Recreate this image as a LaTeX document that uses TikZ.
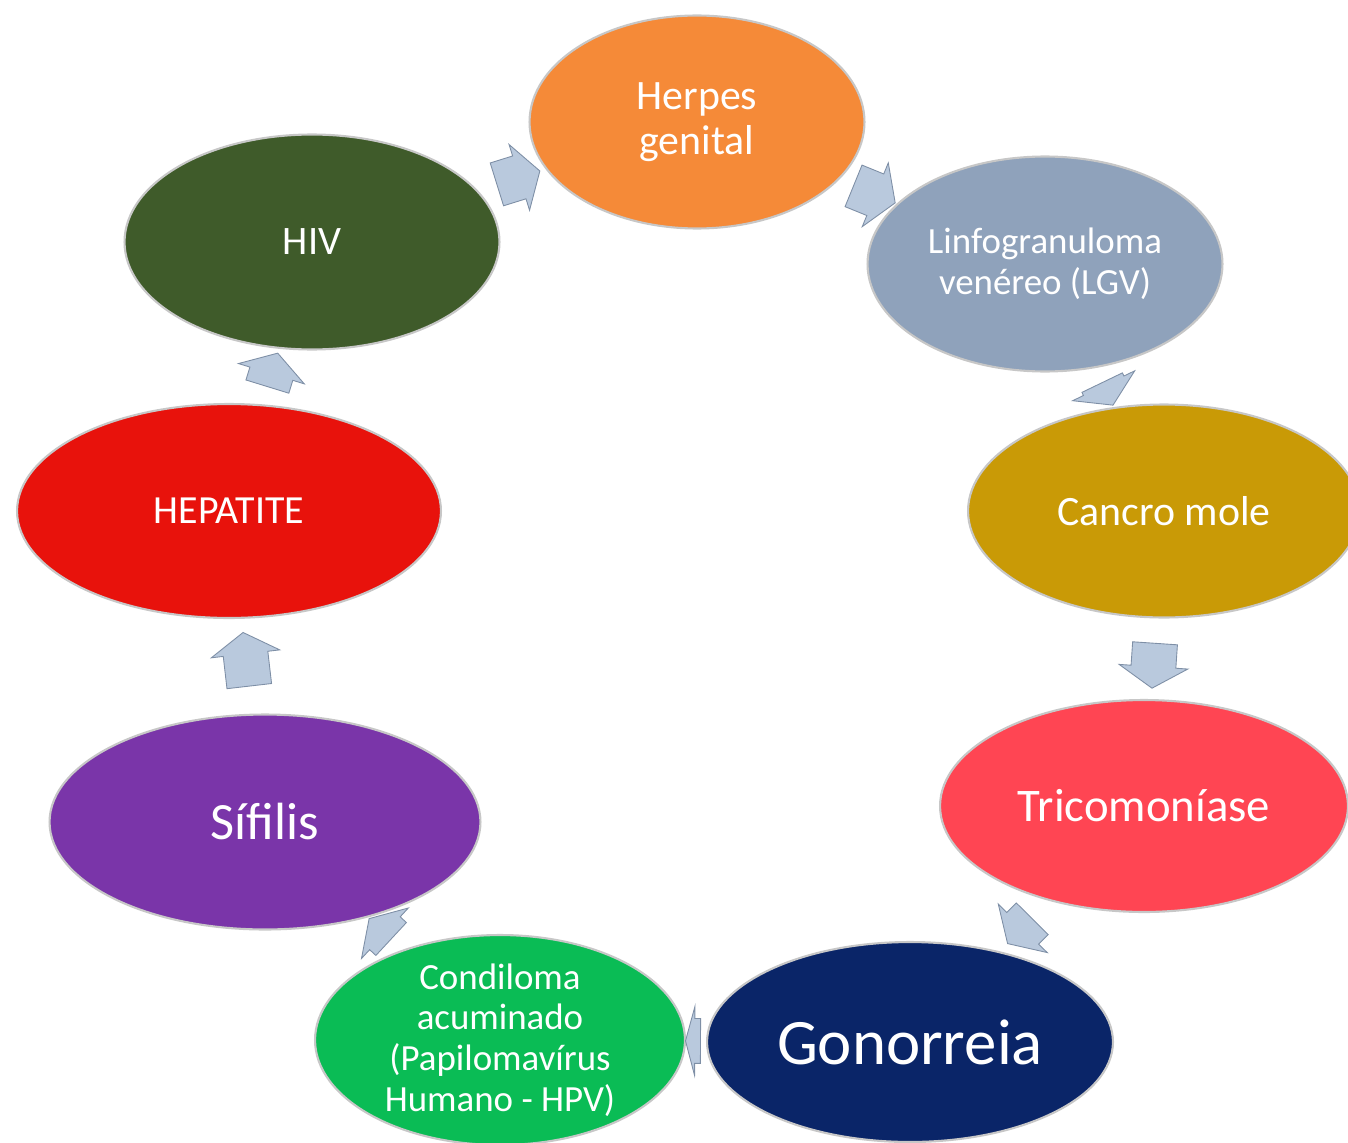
\documentclass[tikz,border=0pt]{standalone}
\usepackage{fontspec}
\setmainfont{Carlito}
\usetikzlibrary{shapes.geometric, shapes.arrows}

\definecolor{herpescol}{HTML}{F58A38}
\definecolor{lgvcol}{HTML}{8FA2BB}
\definecolor{cancrocol}{HTML}{C99A06}
\definecolor{tricocol}{HTML}{FF4553}
\definecolor{gonocol}{HTML}{0A2568}
\definecolor{condcol}{HTML}{0ABC55}
\definecolor{sifcol}{HTML}{7A35A9}
\definecolor{hepcol}{HTML}{E8120C}
\definecolor{hivcol}{HTML}{3F5B2A}
\definecolor{flowfill}{HTML}{B9C9DD}
\definecolor{flowline}{HTML}{7E8FA6}

\begin{document}
\begin{tikzpicture}[
    x = 0.02cm, y = -0.02cm,
    disease/.style = {shape = ellipse, draw = black!22, line width = 1.2pt,
                      text = white, inner sep = 0pt, align = center},
    flow/.style = {single arrow, draw = flowline, fill = flowfill, line width = 0.5pt,
                   inner xsep = 0pt, inner ysep = 0.44cm, minimum width = 1.36cm,
                   single arrow head extend = 0.24cm,
                   single arrow tip angle = 116, minimum height = #1,
                   sloped, allow upside down},
    flow/.default = 0.9cm
  ]
  \useasboundingbox (0, 0) rectangle (1348, 1142);

  % ------------------------------------------------------------------------
  % Diseases
  \node[disease, fill = herpescol, minimum width = 6.7cm, minimum height = 4.26cm,
        font = \fontsize{23.8}{25.5}\selectfont] at (697, 122) (herpes) {Herpes\\genital};
  \node[disease, fill = lgvcol, minimum width = 7.1cm, minimum height = 4.3cm,
        font = \fontsize{21}{23.2}\selectfont] at (1045, 264) (lgv) {Linfogranuloma\\ven\'ereo (LGV)};
  \node[disease, fill = cancrocol, minimum width = 7.84cm, minimum height = 4.26cm,
        font = \fontsize{23.8}{26}\selectfont] at (1164, 511) (cancro) {Cancro mole};
  \node[disease, fill = tricocol, minimum width = 8.16cm, minimum height = 4.24cm,
        font = \fontsize{26.6}{29}\selectfont] at (1144, 806) (trico) {Tricomon\'iase};
  \node[disease, fill = gonocol, minimum width = 8.12cm, minimum height = 4.0cm,
        font = \fontsize{36.9}{40}\selectfont] at (910, 1042) (gono) {Gonorreia};
  \node[disease, fill = condcol, minimum width = 7.4cm, minimum height = 4.2cm, inner ysep = -0.2cm,
        font = \fontsize{21}{23.2}\selectfont] at (500, 1040) (cond)
        {Condiloma\\acuminado\\(Papilomav\'irus\\Humano - HPV)};
  \node[disease, fill = sifcol, minimum width = 8.62cm, minimum height = 4.3cm,
        font = \fontsize{29.8}{32}\selectfont] at (265, 822) (sif) {S\'ifilis};
  \node[disease, fill = hepcol, minimum width = 8.48cm, minimum height = 4.28cm,
        font = \fontsize{22.7}{25}\selectfont] at (229, 511) (hep) {HEPATITE};
  \node[disease, fill = hivcol, minimum width = 7.5cm, minimum height = 4.3cm,
        font = \fontsize{23}{25}\selectfont] at (312, 242) (hiv) {HIV};

  % ------------------------------------------------------------------------
  % Cycle
  \path
    (hiv)    -- node[flow]          {} (herpes)
    (herpes) -- node[flow]          {} (lgv)
    (lgv)    -- node[flow = 0.5cm]  {} (cancro)
    (cancro) -- node[flow]          {} (trico)
    (trico)  -- node[flow = 0.7cm]  {} (gono)
    (gono)   -- node[flow = 0.3cm, single arrow tip angle = 150] {} (cond)
    (cond)   -- node[flow = 0.6cm]  {} (sif)
    (sif)    -- node[flow = 1.08cm] {} (hep)
    (hep)    -- node[flow = 0.7cm]  {} (hiv)
  ;
\end{tikzpicture}
\end{document}
